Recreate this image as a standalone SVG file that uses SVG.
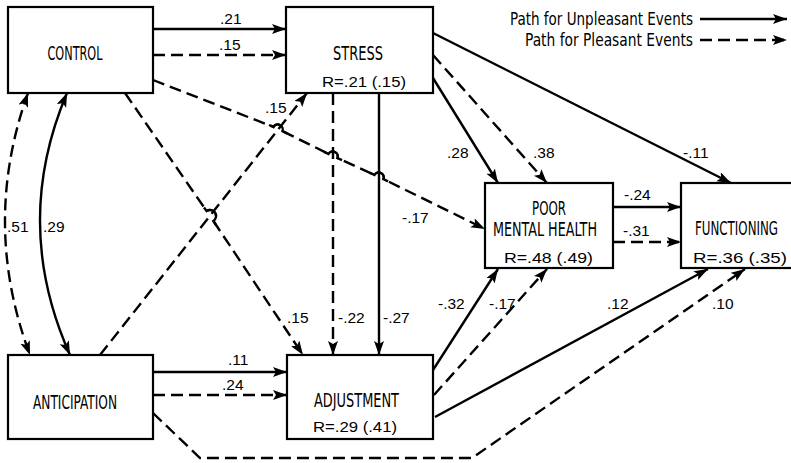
<svg xmlns="http://www.w3.org/2000/svg" width="791" height="463" viewBox="0 0 791 463">
<style>
.box{fill:#fff;stroke:#000;stroke-width:2.2}
.lbl{font-family:"Liberation Sans Narrow","DejaVu Sans Condensed","Liberation Sans",sans-serif;font-size:19px;fill:#000;text-anchor:middle}
.r{font-family:"Liberation Sans",sans-serif;font-size:15px;fill:#000;text-anchor:middle}
.num{font-family:"Liberation Sans",sans-serif;font-size:15.5px;fill:#000}
.leg{font-family:"Liberation Sans Narrow","DejaVu Sans Condensed","Liberation Sans",sans-serif;font-size:17px;fill:#000;text-anchor:end}
.s{fill:none;stroke:#000;stroke-width:2.4}
.d{fill:none;stroke:#000;stroke-width:2.4;stroke-dasharray:12 6}
.a{marker-end:url(#ah)}
.b{marker-start:url(#ah);marker-end:url(#ah)}
</style>
<defs>
<marker id="ah" markerUnits="userSpaceOnUse" markerWidth="16" markerHeight="12" refX="14" refY="5" orient="auto-start-reverse">
<path d="M0,0 L14,5 L0,10 L3,5 z" fill="#000"/>
</marker>
</defs>
<g id="connectors">
<line class="s a" x1="153" y1="29" x2="286" y2="29"/>
<line class="d a" x1="153" y1="55" x2="286" y2="55"/>
<line class="s a" x1="153" y1="372" x2="287" y2="372"/>
<line class="d a" x1="153" y1="395" x2="287" y2="395"/>
<line class="d a" x1="333" y1="93" x2="333" y2="355"/>
<line class="s a" x1="379" y1="93" x2="379" y2="355"/>
<line class="s a" x1="433" y1="33" x2="731" y2="183"/>
<line class="s a" x1="433" y1="78" x2="498" y2="183"/>
<line class="d a" x1="433" y1="55" x2="547" y2="183"/>
<line class="s a" x1="433" y1="370" x2="498" y2="269"/>
<line class="d a" x1="434" y1="395" x2="547" y2="269"/>
<line class="s a" x1="435" y1="417" x2="708" y2="269"/>
<polyline class="d a" points="153,413 200,458 472,458 745,269"/>
<line class="s a" x1="613" y1="207" x2="681" y2="207"/>
<line class="d a" x1="613" y1="242" x2="681" y2="242"/>
<line class="d a" x1="100" y1="355" x2="307" y2="93"/>
<path class="d a" d="M125,93 L206.6,211 A6,6 0 0 1 213.4,221 L303,355"/>
<path class="s" d="M204,207.5 L206.6,211 A6,6 0 0 1 213.4,221 L216,225"/>
<path class="d a" d="M153,80 L273.5,126.9 A5,5 0 0 1 282.5,131.1 L328.5,153.9 A5,5 0 0 1 337.5,158.1 L374.5,174.9 A5,5 0 0 1 383.5,179.1 L485,229"/>
<path class="s" d="M269,125 L273.5,126.9 A5,5 0 0 1 282.5,131.1 L287,133.3"/>
<path class="s" d="M324,151.8 L328.5,153.9 A5,5 0 0 1 337.5,158.1 L342,160.2"/>
<path class="s" d="M370,172.8 L374.5,174.9 A5,5 0 0 1 383.5,179.1 L388,181.3"/>
<path class="d b" d="M28,93 Q-19,224 30,355"/>
<path class="s b" d="M67,93 Q11.5,224 70,355"/>
<line class="s a" x1="700" y1="19" x2="787" y2="19"/>
<line class="d a" x1="700" y1="40" x2="787" y2="40"/>
</g>
<g id="control">
<rect class="box" x="8" y="7" width="145" height="86"/>
<text class="lbl" x="75" y="60" textLength="55" lengthAdjust="spacingAndGlyphs">CONTROL</text>
</g>
<g id="stress">
<rect class="box" x="286" y="7" width="147" height="86"/>
<text class="lbl" x="358" y="60" textLength="50" lengthAdjust="spacingAndGlyphs">STRESS</text>
<text class="r" x="364" y="87" textLength="84" lengthAdjust="spacingAndGlyphs">R=.21 (.15)</text>
</g>
<g id="poor-mental-health">
<rect class="box" x="485" y="183" width="128" height="85"/>
<text class="lbl" x="549" y="215" textLength="34" lengthAdjust="spacingAndGlyphs">POOR</text>
<text class="lbl" x="545" y="236" textLength="104" lengthAdjust="spacingAndGlyphs">MENTAL HEALTH</text>
<text class="r" x="548.5" y="263" textLength="89" lengthAdjust="spacingAndGlyphs">R=.48 (.49)</text>
</g>
<g id="functioning">
<rect class="box" x="681" y="183" width="112" height="85"/>
<text class="lbl" x="736.5" y="235" textLength="83" lengthAdjust="spacingAndGlyphs">FUNCTIONING</text>
<text class="r" x="740" y="263" textLength="94" lengthAdjust="spacingAndGlyphs">R=.36 (.35)</text>
</g>
<g id="anticipation">
<rect class="box" x="8" y="355" width="145" height="84"/>
<text class="lbl" x="75" y="409" textLength="84" lengthAdjust="spacingAndGlyphs">ANTICIPATION</text>
</g>
<g id="adjustment">
<rect class="box" x="287" y="355" width="146" height="84"/>
<text class="lbl" x="356.5" y="407" textLength="85" lengthAdjust="spacingAndGlyphs">ADJUSTMENT</text>
<text class="r" x="355" y="432" textLength="84" lengthAdjust="spacingAndGlyphs">R=.29 (.41)</text>
</g>
<g id="labels">
<text class="num" x="220" y="24">.21</text>
<text class="num" x="219" y="50">.15</text>
<text class="num" x="265" y="113">.15</text>
<text class="num" x="447" y="158">.28</text>
<text class="num" x="533" y="158">.38</text>
<text class="num" x="683" y="158">-.11</text>
<text class="num" x="7" y="232">.51</text>
<text class="num" x="43" y="232">.29</text>
<text class="num" x="287" y="323">.15</text>
<text class="num" x="338" y="323">-.22</text>
<text class="num" x="383" y="323">-.27</text>
<text class="num" x="402" y="223">-.17</text>
<text class="num" x="438" y="309">-.32</text>
<text class="num" x="489" y="309">-.17</text>
<text class="num" x="624" y="200">-.24</text>
<text class="num" x="623" y="236">-.31</text>
<text class="num" x="607" y="309">.12</text>
<text class="num" x="712" y="309">.10</text>
<text class="num" x="228" y="365">.11</text>
<text class="num" x="222" y="390">.24</text>
</g>
<g id="legend">
<text class="leg" x="693" y="25" textLength="183" lengthAdjust="spacingAndGlyphs">Path for Unpleasant Events</text>
<text class="leg" x="693" y="46" textLength="168" lengthAdjust="spacingAndGlyphs">Path for Pleasant Events</text>
</g>
</svg>
